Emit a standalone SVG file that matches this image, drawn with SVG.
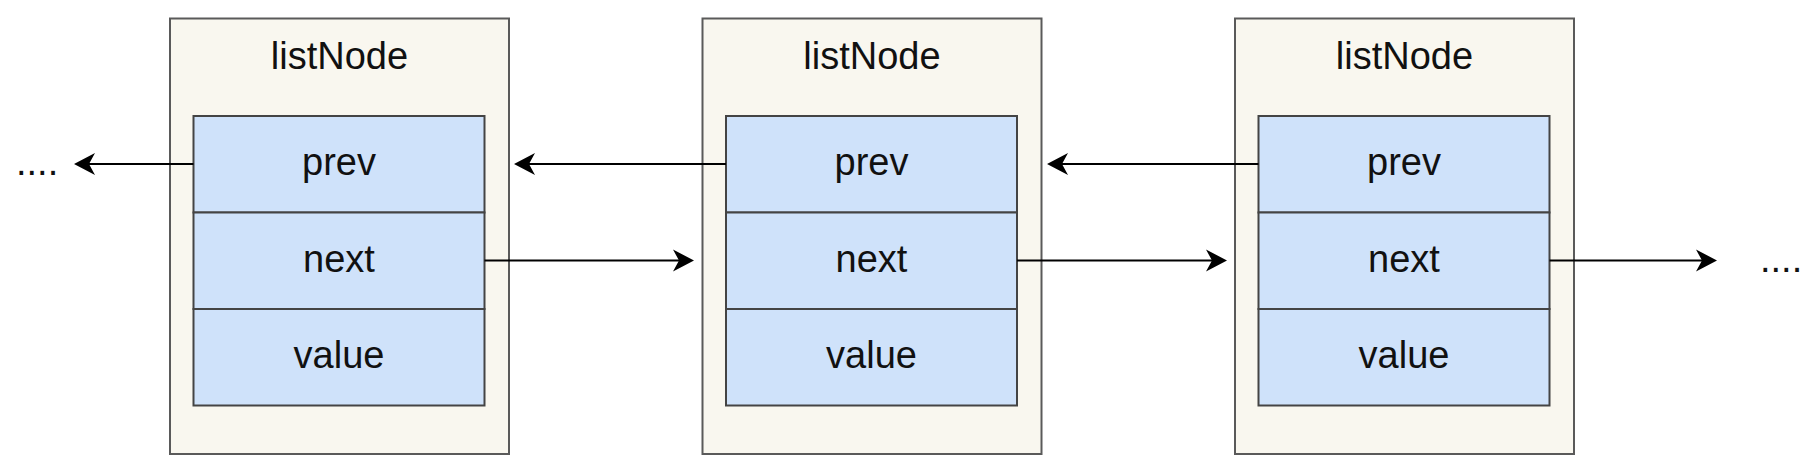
<svg xmlns="http://www.w3.org/2000/svg" width="1818" height="468" viewBox="0 0 1818 468">
<style>
.outer{fill:#f9f7ef;stroke:#5a5a5a;stroke-width:2}
.cell{fill:#cfe2fa;stroke:#444444;stroke-width:2}
.t{font-family:"Liberation Sans",Arial,sans-serif;font-size:38px;fill:#111111;text-anchor:middle}
.e{font-family:"Liberation Sans",Arial,sans-serif;font-size:38px;fill:#111111}
.c{fill:none;stroke:#000000;stroke-width:2.2}
</style>
<defs>
<marker id="arr" markerUnits="userSpaceOnUse" markerWidth="22" markerHeight="22" refX="6" refY="11" orient="auto" overflow="visible">
<path d="M0,0 L21,11 L0,22 L6,11 Z" fill="#000000"/>
</marker>
</defs>
<rect width="1818" height="468" fill="#ffffff"/>
<g id="node1">
<rect class="outer" x="170" y="18.5" width="339" height="435.5"/>
<text class="t" x="339.5" y="69">listNode</text>
<rect class="cell" x="193.5" y="116" width="291" height="96.5"/>
<rect class="cell" x="193.5" y="212.5" width="291" height="96.5"/>
<rect class="cell" x="193.5" y="309" width="291" height="96.5"/>
<text class="t" x="339" y="175">prev</text>
<text class="t" x="339" y="271.5">next</text>
<text class="t" x="339" y="368">value</text>
</g>
<g id="node2">
<rect class="outer" x="702.5" y="18.5" width="339" height="435.5"/>
<text class="t" x="872" y="69">listNode</text>
<rect class="cell" x="726" y="116" width="291" height="96.5"/>
<rect class="cell" x="726" y="212.5" width="291" height="96.5"/>
<rect class="cell" x="726" y="309" width="291" height="96.5"/>
<text class="t" x="871.5" y="175">prev</text>
<text class="t" x="871.5" y="271.5">next</text>
<text class="t" x="871.5" y="368">value</text>
</g>
<g id="node3">
<rect class="outer" x="1235" y="18.5" width="339" height="435.5"/>
<text class="t" x="1404.5" y="69">listNode</text>
<rect class="cell" x="1258.5" y="116" width="291" height="96.5"/>
<rect class="cell" x="1258.5" y="212.5" width="291" height="96.5"/>
<rect class="cell" x="1258.5" y="309" width="291" height="96.5"/>
<text class="t" x="1404" y="175">prev</text>
<text class="t" x="1404" y="271.5">next</text>
<text class="t" x="1404" y="368">value</text>
</g>
<g id="ellipsis-left"><text class="e" x="16" y="175">....</text></g>
<g id="ellipsis-right"><text class="e" x="1760" y="271.5">....</text></g>
<g id="connectors">
<line class="c" x1="193.5" y1="164" x2="89" y2="164" marker-end="url(#arr)"/>
<line class="c" x1="726" y1="164" x2="529" y2="164" marker-end="url(#arr)"/>
<line class="c" x1="1258.5" y1="164" x2="1062" y2="164" marker-end="url(#arr)"/>
<line class="c" x1="484.5" y1="260.5" x2="679" y2="260.5" marker-end="url(#arr)"/>
<line class="c" x1="1017" y1="260.5" x2="1212" y2="260.5" marker-end="url(#arr)"/>
<line class="c" x1="1549.5" y1="260.5" x2="1702" y2="260.5" marker-end="url(#arr)"/>
</g>
</svg>
